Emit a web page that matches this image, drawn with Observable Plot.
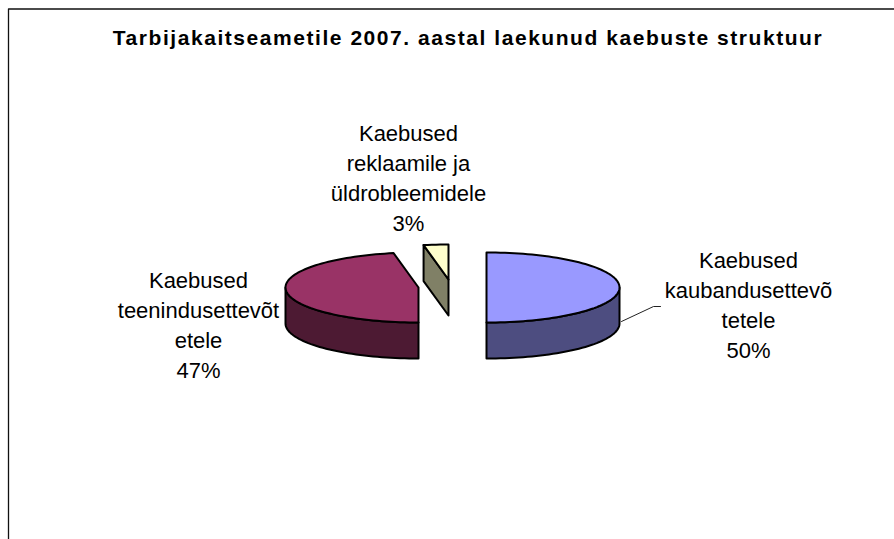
<!DOCTYPE html>
<html>
<head>
<meta charset="utf-8">
<script src="https://cdn.jsdelivr.net/npm/d3@7"></script>
<script src="https://cdn.jsdelivr.net/npm/@observablehq/plot@0.6"></script>
<style>
html,body{margin:0;padding:0;background:#fff;overflow:hidden}
svg{display:block}
.chart-title{letter-spacing:1.55px}
</style>
</head>
<body>
<div id="chart"></div>
<script>
const titleText = "Tarbijakaitseametile 2007. aastal laekunud kaebuste struktuur";
const categories = ["Kaebused\nkaubandusettevõ\ntetele", "Kaebused\nteenindusettevõt\netele", "Kaebused\nreklaamile ja\nüldrobleemidele"];
const shares = [50, 47, 3];
const topColors = ["#9999FF", "#993366", "#FFFFCC"];
const wallColors = ["#4D4D80", "#4D1A33", "#808066"];

// layout: exploded centres of the slices, ellipse radii and extrusion depth, in pixels
const centres = [[486, 287], [418, 287], [448, 279]];
const rx = 133, ry = 35, depth = 36;
const labelAt = [[748, 303], [198, 323], [408, 176]];
const W = 894, H = 539;

const total = d3.sum(shares);
let acc = 0;
const slices = shares.map((v, i) => {
  const a0 = acc / total * 360; acc += v; const a1 = acc / total * 360;
  return {i, a0, a1, cx: centres[i][0], cy: centres[i][1]};
});
const pt = (s, a, dz = 0) => {
  const t = a * Math.PI / 180;
  return {x: s.cx + rx * Math.sin(t), y: s.cy - ry * Math.cos(t) + dz};
};
const arc = (s, a0, a1, dz = 0) => {
  const n = Math.max(2, Math.ceil((a1 - a0) / 2)), out = [];
  for (let k = 0; k <= n; k++) out.push(pt(s, a0 + (a1 - a0) * k / n, dz));
  return out;
};
const closed = pts => [...pts, pts[0]];
const polys = [];
for (const s of slices) {
  const c = {x: s.cx, y: s.cy}, c2 = {x: s.cx, y: s.cy + depth};
  // flat cut faces that look towards the viewer
  if (Math.sin(s.a0 * Math.PI / 180) < -1e-6)
    polys.push({pts: closed([c, pt(s, s.a0), pt(s, s.a0, depth), c2]), fill: wallColors[s.i]});
  if (Math.sin(s.a1 * Math.PI / 180) > 1e-6)
    polys.push({pts: closed([c, pt(s, s.a1), pt(s, s.a1, depth), c2]), fill: wallColors[s.i]});
  // outer rim, front half only
  const lo = Math.max(s.a0, 90), hi = Math.min(s.a1, 270);
  if (hi > lo)
    polys.push({pts: closed([...arc(s, lo, hi), ...arc(s, lo, hi, depth).reverse()]), fill: wallColors[s.i]});
  // top face
  polys.push({pts: closed([c, ...arc(s, s.a0, s.a1)]), fill: topColors[s.i]});
}

const labels = categories.map((c, i) => ({text: `${c}\n${shares[i]}%`, x: labelAt[i][0], y: labelAt[i][1]}));

const plot = Plot.plot({
  width: W, height: H,
  margin: 0,
  x: {domain: [0, W], range: [0, W], axis: null},
  y: {domain: [0, H], range: [0, H], axis: null},
  style: {fontFamily: "'Liberation Sans', Arial, sans-serif", background: "#fff", color: "#000"},
  marks: [
    Plot.line([{x: 894, y: 8.5}, {x: 8, y: 8.5}, {x: 8, y: 539}], {x: "x", y: "y", stroke: "#111", strokeWidth: 1.3}),
    Plot.line([{x: 621, y: 321}, {x: 653, y: 306}, {x: 660, y: 306}], {x: "x", y: "y", stroke: "#222", strokeWidth: 1}),
    ...polys.map(p => Plot.line(p.pts, {x: "x", y: "y", fill: p.fill, stroke: "#000", strokeWidth: 2, strokeLinejoin: "round"})),
    Plot.text([titleText], {x: [467.5], y: [38], text: d => d, fontSize: 21, fontWeight: "bold", fill: "#000", textAnchor: "middle", lineAnchor: "middle", className: "chart-title"}),
    Plot.text(labels, {x: "x", y: "y", text: "text", fontSize: 22, lineHeight: 1.364, fill: "#000", textAnchor: "middle", lineAnchor: "middle"})
  ]
});
document.getElementById("chart").append(plot);
</script>
</body>
</html>
